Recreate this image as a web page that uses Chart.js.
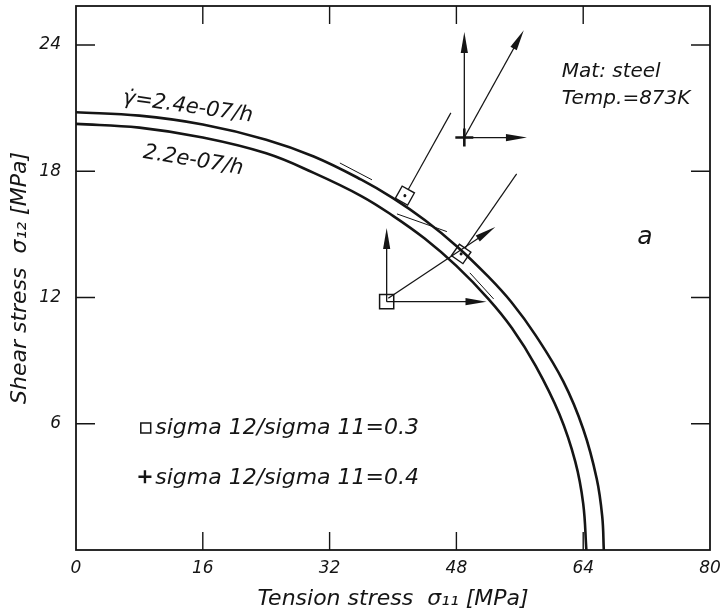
<!DOCTYPE html>
<html lang="en">
<head>
  <meta charset="UTF-8" />
  <title>Creep potential surfaces - steel 873K</title>
  <script src="https://cdn.jsdelivr.net/npm/chart.js"></script>
  <style>
    html, body { margin: 0; padding: 0; background: #fff; }
    canvas { display: block; }
  </style>
</head>
<body>
  <canvas id="surfaceChart" width="721" height="614"></canvas>

  <script>
    // tick values
    const xTicks = [0, 16, 32, 48, 64, 80];
    const yTicks = [6, 12, 18, 24];

    // equal strain-rate curves, sigma11 / sigma12 in MPa
    const rateLabels = ['\u03B3\u0307=2.4e-07/h', '2.2e-07/h'];
    const outerX = [0, 8, 16, 24, 30, 36, 40, 44, 48, 52, 55, 58, 61.5, 64, 65.7, 66.4, 66.6];
    const outerY = [20.8, 20.64, 20.22, 19.5, 18.7, 17.6, 16.72, 15.68, 14.45, 13.0, 11.75, 10.2, 8.0, 5.75, 3.4, 1.6, 0];
    const innerX = [0, 8, 16, 24, 30, 36, 40, 44, 48, 52, 55, 58, 61, 63, 64, 64.4];
    const innerY = [20.25, 20.07, 19.6, 18.85, 17.92, 16.82, 15.88, 14.8, 13.5, 11.95, 10.55, 8.75, 6.45, 4.2, 2.2, 0];

    // load points (sigma11, sigma12)
    const legendLabels = ['sigma 12/sigma 11=0.3', 'sigma 12/sigma 11=0.4'];
    const squarePoint = [39.2, 11.8];
    const plusPoint = [49, 19.6];

    // arrows from load points: [x1, y1, x2, y2]
    const squareArrows = [[39.2, 11.8, 39.2, 15.3], [39.2, 11.8, 51.8, 11.8], [39.4, 11.96, 52.9, 15.35]];
    const plusArrows = [[49, 19.6, 49, 24.62], [49, 19.6, 56.9, 19.6], [49, 19.6, 56.5, 24.7]];
    // normals to the surfaces: [x on curve, y on curve, x end, y end]
    const normalLines = [[41.5, 16.84, 47.3, 20.77], [48.6, 14.07, 55.6, 17.87]];
    // thin tangent strokes
    const tangentLines = [[33.3, 18.39, 37.35, 17.59], [40.5, 15.97, 46.8, 15.13], [49.7, 13.17, 52.7, 11.93]];

    const noteLines = ['Mat: steel', 'Temp.=873K'];
    const panelLetter = 'a';

    const ink = '#151515';
    const family = "'DejaVu Sans', sans-serif";
    const tickFont = { family: family, size: 17, style: 'italic' };
    const titleFont = { family: family, size: 22, style: 'italic' };

    function toXY(xs, ys) {
      return xs.map((x, i) => ({ x: x, y: ys[i] }));
    }

    function fixBox(s, size) {
      if (s.isHorizontal()) s.height = size; else s.width = size;
      s.paddingTop = 0; s.paddingBottom = 0;
      s.paddingLeft = 0; s.paddingRight = 0;
    }

    // frame round the plot with inward tick marks
    const framePlugin = {
      id: 'frame',
      afterDatasetsDraw(chart) {
        const { ctx, chartArea: a, scales } = chart;
        ctx.save();
        ctx.strokeStyle = ink;
        ctx.lineWidth = 1.8;
        ctx.strokeRect(a.left, a.top, a.right - a.left, a.bottom - a.top);
        ctx.lineWidth = 1.4;
        ctx.beginPath();
        xTicks.slice(1, -1).forEach(v => {
          const px = scales.x.getPixelForValue(v);
          ctx.moveTo(px, a.bottom); ctx.lineTo(px, a.bottom - 18);
          ctx.moveTo(px, a.top); ctx.lineTo(px, a.top + 18);
        });
        yTicks.forEach(v => {
          const py = scales.y.getPixelForValue(v);
          ctx.moveTo(a.left, py); ctx.lineTo(a.left + 19, py);
          ctx.moveTo(a.right, py); ctx.lineTo(a.right - 19, py);
        });
        ctx.stroke();
        ctx.restore();
      }
    };

    function drawArrow(ctx, x1, y1, x2, y2) {
      const ang = Math.atan2(y2 - y1, x2 - x1);
      const len = 21, half = 3.6;
      ctx.beginPath();
      ctx.moveTo(x1, y1);
      ctx.lineTo(x2 - Math.cos(ang) * len * 0.6, y2 - Math.sin(ang) * len * 0.6);
      ctx.stroke();
      ctx.beginPath();
      ctx.moveTo(x2, y2);
      ctx.lineTo(x2 - len * Math.cos(ang) + half * Math.sin(ang), y2 - len * Math.sin(ang) - half * Math.cos(ang));
      ctx.lineTo(x2 - len * Math.cos(ang) - half * Math.sin(ang), y2 - len * Math.sin(ang) + half * Math.cos(ang));
      ctx.closePath();
      ctx.fill();
    }

    // arrows, normals, texts and the legend inside the plot
    const notesPlugin = {
      id: 'notes',
      afterDatasetsDraw(chart) {
        const { ctx, scales } = chart;
        const px = v => scales.x.getPixelForValue(v);
        const py = v => scales.y.getPixelForValue(v);
        ctx.save();
        ctx.strokeStyle = ink;
        ctx.fillStyle = ink;

        ctx.lineWidth = 1.3;
        squareArrows.concat(plusArrows).forEach(s => drawArrow(ctx, px(s[0]), py(s[1]), px(s[2]), py(s[3])));

        // normals with right-angle marks
        const side = 14;
        normalLines.forEach(s => {
          const x1 = px(s[0]), y1 = py(s[1]), x2 = px(s[2]), y2 = py(s[3]);
          const ang = Math.atan2(y2 - y1, x2 - x1);
          ctx.lineWidth = 1.2;
          ctx.beginPath();
          ctx.moveTo(x1 + Math.cos(ang) * side / 2, y1 + Math.sin(ang) * side / 2);
          ctx.lineTo(x2, y2);
          ctx.stroke();
          ctx.save();
          ctx.translate(x1, y1);
          ctx.rotate(ang);
          ctx.lineWidth = 1.4;
          ctx.strokeRect(-side / 2, -side / 2, side, side);
          ctx.beginPath();
          ctx.arc(0, 0, 1.5, 0, Math.PI * 2);
          ctx.fill();
          ctx.restore();
        });

        ctx.lineWidth = 1;
        ctx.beginPath();
        tangentLines.forEach(s => {
          ctx.moveTo(px(s[0]), py(s[1]));
          ctx.lineTo(px(s[2]), py(s[3]));
        });
        ctx.stroke();

        // curve labels, following the curves
        ctx.font = 'italic 21px ' + family;
        ctx.textAlign = 'center';
        ctx.textBaseline = 'middle';
        [[rateLabels[0], 14.1, 21.05, 8], [rateLabels[1], 14.8, 18.5, 9.5]].forEach(t => {
          ctx.save();
          ctx.translate(px(t[1]), py(t[2]));
          ctx.rotate(t[3] * Math.PI / 180);
          ctx.fillText(t[0], 0, 0);
          ctx.restore();
        });

        ctx.textAlign = 'left';
        ctx.font = 'italic 20px ' + family;
        ctx.fillText(noteLines[0], px(61.3), py(22.72));
        ctx.fillText(noteLines[1], px(61.3), py(21.44));
        ctx.textAlign = 'center';
        ctx.font = 'italic 25px ' + family;
        ctx.fillText(panelLetter, px(71.8), py(14.83));

        // legend
        const h = Chart.helpers;
        ctx.fillStyle = '#fff';
        ctx.lineWidth = 1.5;
        h.drawPoint(ctx, { pointStyle: 'rect', radius: 7, borderWidth: 1.5 }, px(8.8), py(5.8));
        ctx.lineWidth = 2.4;
        h.drawPoint(ctx, { pointStyle: 'cross', radius: 6.5, borderWidth: 2.4 }, px(8.7), py(3.48));
        ctx.fillStyle = ink;
        ctx.font = 'italic 22px ' + family;
        ctx.textAlign = 'left';
        ctx.fillText(legendLabels[0], px(10.0), py(5.8));
        ctx.fillText(legendLabels[1], px(10.0), py(3.42));

        ctx.restore();
      }
    };

    const ctx = document.getElementById('surfaceChart').getContext('2d');
    new Chart(ctx, {
      type: 'scatter',
      data: {
        datasets: [
          {
            label: rateLabels[0],
            data: toXY(outerX, outerY),
            showLine: true,
            borderColor: ink,
            borderWidth: 2.6,
            pointRadius: 0,
            tension: 0.4
          },
          {
            label: rateLabels[1],
            data: toXY(innerX, innerY),
            showLine: true,
            borderColor: ink,
            borderWidth: 2.6,
            pointRadius: 0,
            tension: 0.4
          },
          {
            label: legendLabels[0],
            data: [{ x: squarePoint[0], y: squarePoint[1] }],
            pointStyle: 'rect',
            pointRadius: 10,
            borderColor: ink,
            borderWidth: 1.5,
            backgroundColor: 'rgba(0,0,0,0)'
          },
          {
            label: legendLabels[1],
            data: [{ x: plusPoint[0], y: plusPoint[1] }],
            pointStyle: 'cross',
            pointRadius: 9,
            borderColor: ink,
            borderWidth: 2.6
          }
        ]
      },
      options: {
        responsive: false,
        animation: false,
        devicePixelRatio: 1,
        events: [],
        layout: { autoPadding: false, padding: { left: 0, right: 11, top: 6, bottom: 0 } },
        plugins: { legend: { display: false }, tooltip: { enabled: false } },
        scales: {
          x: {
            type: 'linear',
            min: 0,
            max: 80,
            afterBuildTicks: s => { s.ticks = xTicks.map(v => ({ value: v })); },
            afterFit: s => fixBox(s, 64),
            grid: { display: false, drawTicks: false },
            border: { display: false },
            ticks: { font: tickFont, color: ink, padding: 8, maxRotation: 0 },
            title: {
              display: true,
              text: 'Tension stress  \u03C3\u2081\u2081 [MPa]',
              font: titleFont,
              color: ink,
              padding: { top: 0, bottom: 2 }
            }
          },
          y: {
            type: 'linear',
            min: 0,
            max: 25.85,
            afterBuildTicks: s => { s.ticks = yTicks.map(v => ({ value: v })); },
            afterFit: s => fixBox(s, 76),
            grid: { display: false, drawTicks: false },
            border: { display: false },
            ticks: { font: tickFont, color: ink, padding: 15 },
            title: {
              display: true,
              text: 'Shear stress  \u03C3\u2081\u2082 [MPa]',
              font: titleFont,
              color: ink,
              padding: { top: 7, bottom: 0 }
            }
          }
        }
      },
      plugins: [framePlugin, notesPlugin]
    });
  </script>
</body>
</html>
